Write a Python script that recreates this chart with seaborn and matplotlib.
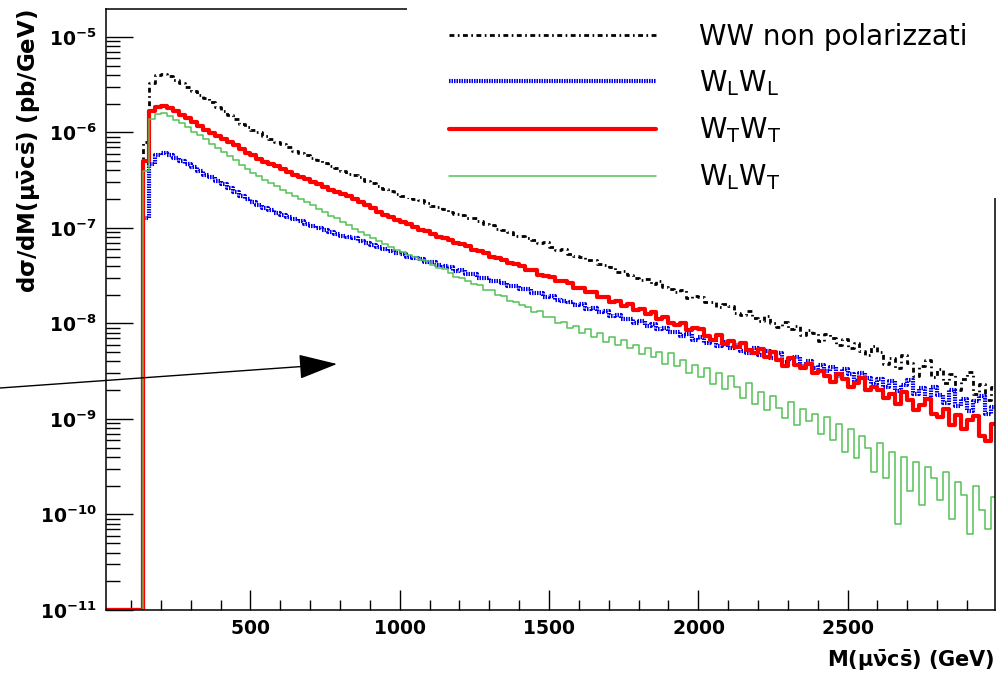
import numpy as np
import pandas as pd
import matplotlib
matplotlib.use("Agg")
import matplotlib.pyplot as plt
from matplotlib.ticker import LogLocator, MultipleLocator, FixedLocator, FuncFormatter, NullFormatter
from matplotlib.patches import Rectangle, FancyArrowPatch
import seaborn as sns

# Invariant-mass binning of M(mu nu c s), GeV
mass_edges = np.arange(0, 3001, 20)

# log10 of dsigma/dM in pb/GeV, one value per 20 GeV bin (empty bins sit on the 1e-11 floor)
ww_exp = [
    -11, -11, -11, -11, -11, -11, -11, -6.10, -5.48, -5.40,
    -5.39, -5.41, -5.45, -5.48, -5.52, -5.57, -5.61, -5.64, -5.68, -5.73,
    -5.77, -5.82, -5.86, -5.91, -5.94, -5.97, -6.00, -6.04, -6.07, -6.10,
    -6.12, -6.15, -6.19, -6.21, -6.24, -6.27, -6.29, -6.32, -6.35, -6.37,
    -6.40, -6.43, -6.45, -6.47, -6.51, -6.53, -6.56, -6.59, -6.61, -6.64,
    -6.66, -6.68, -6.70, -6.71, -6.74, -6.77, -6.78, -6.80, -6.83, -6.85,
    -6.86, -6.90, -6.90, -6.93, -6.96, -6.97, -7.01, -7.02, -7.04, -7.08,
    -7.08, -7.11, -7.13, -7.16, -7.15, -7.20, -7.23, -7.22, -7.27, -7.29,
    -7.30, -7.34, -7.33, -7.38, -7.39, -7.41, -7.46, -7.45, -7.49, -7.52,
    -7.54, -7.53, -7.59, -7.56, -7.62, -7.64, -7.67, -7.65, -7.73, -7.71,
    -7.72, -7.78, -7.77, -7.83, -7.80, -7.82, -7.89, -7.91, -7.87, -7.94,
    -7.97, -7.92, -7.99, -8.04, -7.98, -8.06, -8.03, -8.12, -8.07, -8.10,
    -8.18, -8.11, -8.15, -8.22, -8.16, -8.26, -8.20, -8.29, -8.33, -8.24,
    -8.30, -8.42, -8.36, -8.47, -8.33, -8.41, -8.55, -8.44, -8.38, -8.56,
    -8.48, -8.62, -8.53, -8.70, -8.58, -8.51, -8.74, -8.63, -8.80, -8.66,
]
ll_exp = [
    -11, -11, -11, -11, -11, -11, -11, -6.90, -6.33, -6.24,
    -6.22, -6.24, -6.27, -6.30, -6.33, -6.36, -6.40, -6.44, -6.47, -6.51,
    -6.54, -6.58, -6.62, -6.66, -6.70, -6.73, -6.76, -6.79, -6.81, -6.84,
    -6.86, -6.89, -6.91, -6.93, -6.96, -6.98, -7.00, -7.02, -7.04, -7.06,
    -7.08, -7.09, -7.11, -7.14, -7.16, -7.18, -7.20, -7.22, -7.24, -7.26,
    -7.27, -7.30, -7.31, -7.32, -7.36, -7.36, -7.39, -7.40, -7.41, -7.45,
    -7.44, -7.48, -7.48, -7.52, -7.52, -7.55, -7.56, -7.58, -7.61, -7.61,
    -7.64, -7.64, -7.68, -7.68, -7.72, -7.71, -7.75, -7.76, -7.77, -7.81,
    -7.80, -7.85, -7.84, -7.88, -7.87, -7.92, -7.91, -7.95, -7.95, -7.99,
    -7.97, -8.03, -8.01, -8.06, -8.05, -8.09, -8.09, -8.13, -8.11, -8.17,
    -8.14, -8.20, -8.17, -8.24, -8.19, -8.26, -8.22, -8.29, -8.31, -8.26,
    -8.33, -8.29, -8.36, -8.31, -8.40, -8.37, -8.35, -8.44, -8.39, -8.47,
    -8.43, -8.50, -8.46, -8.55, -8.48, -8.53, -8.60, -8.52, -8.57, -8.63,
    -8.58, -8.66, -8.60, -8.71, -8.64, -8.59, -8.74, -8.68, -8.79, -8.66,
    -8.75, -8.83, -8.70, -8.86, -8.79, -8.92, -8.81, -8.76, -8.95, -8.87,
]
tt_exp = [
    -11, -11, -11, -11, -11, -11, -11, -6.30, -5.77, -5.73,
    -5.72, -5.74, -5.78, -5.82, -5.85, -5.89, -5.93, -5.97, -6.01, -6.04,
    -6.07, -6.10, -6.13, -6.17, -6.21, -6.24, -6.28, -6.31, -6.33, -6.35,
    -6.38, -6.41, -6.44, -6.47, -6.49, -6.52, -6.54, -6.57, -6.60, -6.62,
    -6.64, -6.67, -6.70, -6.73, -6.76, -6.79, -6.83, -6.86, -6.89, -6.92,
    -6.94, -6.96, -6.99, -7.02, -7.03, -7.06, -7.09, -7.10, -7.13, -7.16,
    -7.17, -7.19, -7.23, -7.24, -7.26, -7.30, -7.31, -7.33, -7.37, -7.38,
    -7.40, -7.44, -7.44, -7.49, -7.50, -7.51, -7.56, -7.56, -7.58, -7.63,
    -7.63, -7.67, -7.67, -7.72, -7.72, -7.77, -7.76, -7.82, -7.80, -7.86,
    -7.85, -7.90, -7.88, -7.95, -7.93, -8.00, -8.02, -7.99, -8.07, -8.05,
    -8.06, -8.13, -8.17, -8.12, -8.21, -8.18, -8.25, -8.20, -8.28, -8.31,
    -8.27, -8.35, -8.30, -8.38, -8.44, -8.36, -8.43, -8.47, -8.42, -8.52,
    -8.50, -8.55, -8.61, -8.53, -8.58, -8.66, -8.62, -8.57, -8.70, -8.67,
    -8.70, -8.78, -8.74, -8.84, -8.72, -8.80, -8.91, -8.85, -8.79, -8.95,
    -8.98, -8.90, -9.06, -8.96, -9.10, -9.01, -8.97, -9.18, -9.23, -9.05,
]
lt_exp = [
    -11, -11, -11, -11, -11, -11, -11, -6.40, -5.86, -5.81,
    -5.80, -5.83, -5.87, -5.90, -5.94, -5.99, -6.03, -6.07, -6.12, -6.16,
    -6.20, -6.25, -6.29, -6.34, -6.38, -6.42, -6.46, -6.50, -6.53, -6.56,
    -6.60, -6.63, -6.66, -6.70, -6.73, -6.76, -6.80, -6.83, -6.87, -6.90,
    -6.94, -6.97, -7.01, -7.04, -7.07, -7.11, -7.14, -7.17, -7.20, -7.23,
    -7.25, -7.28, -7.30, -7.34, -7.35, -7.39, -7.42, -7.43, -7.47, -7.51,
    -7.52, -7.55, -7.59, -7.60, -7.65, -7.65, -7.70, -7.71, -7.76, -7.77,
    -7.81, -7.83, -7.88, -7.87, -7.93, -7.93, -7.99, -7.98, -8.05, -8.03,
    -8.10, -8.06, -8.14, -8.10, -8.19, -8.14, -8.23, -8.17, -8.26, -8.22,
    -8.32, -8.26, -8.35, -8.30, -8.42, -8.31, -8.45, -8.38, -8.52, -8.43,
    -8.56, -8.47, -8.63, -8.52, -8.69, -8.55, -8.66, -8.78, -8.62, -8.84,
    -8.72, -8.91, -8.76, -8.88, -8.99, -8.82, -9.06, -8.90, -9.02, -8.95,
    -9.16, -8.98, -9.22, -9.05, -9.35, -9.10, -9.41, -9.18, -9.30, -9.55,
    -9.25, -9.62, -9.35, -10.10, -9.40, -9.75, -9.45, -9.90, -9.50, -9.62,
    -9.85, -9.55, -10.05, -9.66, -9.80, -10.20, -9.70, -9.95, -10.15, -9.82,
]

series_labels = [
    "WW non polarizzati",
    r"W$_\mathrm{L}$W$_\mathrm{L}$",
    r"W$_\mathrm{T}$W$_\mathrm{T}$",
    r"W$_\mathrm{L}$W$_\mathrm{T}$",
]
series_values = [ww_exp, ll_exp, tt_exp, lt_exp]

# Decades labelled on the cross-section axis
y_decades = [-11, -10, -9, -8, -7, -6, -5]

# Line styles (dash lengths in points)
series_styles = [
    dict(color="black", linewidth=2.0, linestyle=(0, (3.5, 2.5, 1.2, 2.5))),
    dict(color="#0000ee", linewidth=3.0, linestyle=(0, (1.1, 0.7))),
    dict(color="#ff0000", linewidth=3.0, linestyle="-"),
    dict(color="#55c155", linewidth=1.1, linestyle="-"),
]

sns.set_style("white")
plt.rcParams["font.family"] = ["DejaVu Sans"]
plt.rcParams["mathtext.fontset"] = "dejavusans"
plt.rcParams["lines.scale_dashes"] = False
plt.rcParams["text.color"] = "black"
plt.rcParams["axes.labelcolor"] = "black"

W, H = 1004, 673
fig = plt.figure(figsize=(W / 100, H / 100), dpi=100)
ax = fig.add_axes([105.7 / W, 1 - 610 / H, (995 - 105.7) / W, (610 - 9) / H])

centers = mass_edges[:-1] + 10
handles = []
for vals, style in zip(series_values, series_styles):
    df = pd.DataFrame({"mass": centers, "xsec": np.power(10.0, vals)})
    n_before = len(ax.lines)
    sns.histplot(data=df, x="mass", weights="xsec", bins=list(mass_edges),
                 element="step", fill=False, log_scale=(False, True), ax=ax,
                 **style)
    handles.append(ax.lines[n_before])

ax.set_xlim(15, 2994)
ax.set_ylim(1e-11, 10 ** -4.707)

# ROOT-like axes: inward ticks on the left and bottom only
ax.yaxis.set_major_locator(FixedLocator([10.0 ** d for d in y_decades]))
ax.yaxis.set_minor_locator(LogLocator(base=10, subs=np.arange(2, 10), numticks=20))
ax.yaxis.set_minor_formatter(NullFormatter())
ax.yaxis.set_major_formatter(FuncFormatter(lambda v, p: r"$\mathbf{10^{%d}}$" % round(np.log10(v))))
ax.xaxis.set_major_locator(FixedLocator([500, 1000, 1500, 2000, 2500]))
ax.xaxis.set_minor_locator(MultipleLocator(100))
ax.xaxis.set_major_formatter(FuncFormatter(lambda v, p: r"$\mathbf{%d}$" % round(v)))

ax.tick_params(axis="y", which="major", direction="in", length=19.5, width=1.0,
               left=True, right=False, pad=6.5, labelsize=13.5, colors="black")
ax.tick_params(axis="y", which="minor", direction="in", length=10, width=1.0,
               left=True, right=False, colors="black")
ax.tick_params(axis="x", which="major", direction="in", length=14.4, width=1.0,
               bottom=True, top=False, pad=6.5, labelsize=13.5, colors="black")
ax.tick_params(axis="x", which="minor", direction="in", length=7.2, width=1.0,
               bottom=True, top=False, colors="black")
for sp in ax.spines.values():
    sp.set_visible(True)
    sp.set_color("black")
    sp.set_linewidth(1.1)

ax.set_ylabel(r"$\mathbf{d\sigma/dM(\mu\bar{\nu}c\bar{s})\ (pb/GeV)}$", fontsize=16.5, loc="top")
ax.yaxis.set_label_coords(-0.072, 1.0)
ax.set_xlabel(r"$\mathbf{M(\mu\bar{\nu}c\bar{s})\ (GeV)}$", fontsize=15, loc="right")
ax.xaxis.set_label_coords(1.0, -0.064)

# White legend panel over the upper right of the frame
fig.add_artist(Rectangle((407 / W, 1 - 198 / H), 1.0, 1.0, transform=fig.transFigure,
                         facecolor="white", edgecolor="none", zorder=1))
fig.legend(handles, series_labels, loc="upper left",
           bbox_to_anchor=(449 / W, 1 - 23 / H), frameon=False,
           handlelength=7.45, handletextpad=1.55, labelspacing=0.62,
           borderpad=0, borderaxespad=0,
           prop=dict(size=20, weight="normal"))

# Pointer arrow
fig.add_artist(FancyArrowPatch((0.0, 1 - 388 / H), (337 / W, 1 - 364 / H),
                               transform=fig.transFigure,
                               arrowstyle="-|>,head_length=1.22,head_width=0.39",
                               mutation_scale=20, color="black", lw=1.0,
                               shrinkA=0, shrinkB=0, zorder=4))

fig.savefig("out.png", dpi=100, facecolor="white")
